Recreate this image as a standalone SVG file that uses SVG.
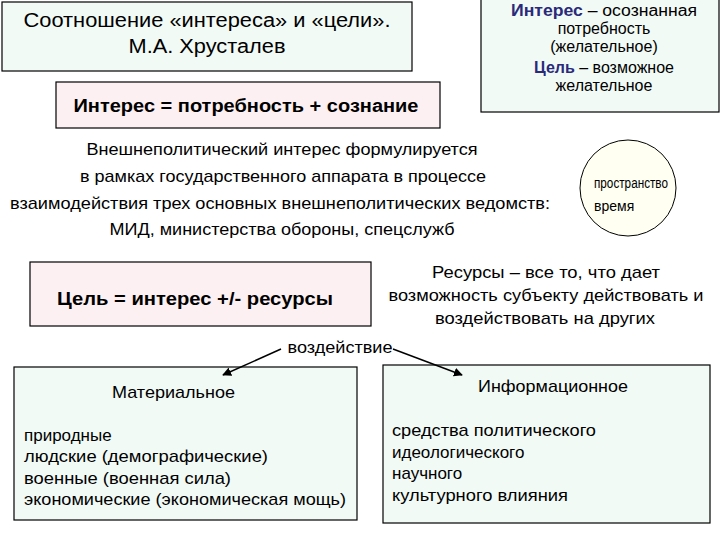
<svg xmlns="http://www.w3.org/2000/svg" width="720" height="540" viewBox="0 0 720 540">
<style>
text{font-family:"Liberation Sans",Arial,sans-serif;fill:#000}
.box{stroke:#000;stroke-width:1.2}
.g{fill:#f2faf6}.p{fill:#fdf0f2}
.b{font-weight:bold}
.n{fill:#2a2a7a;font-weight:bold}
</style>
<defs><marker id="a" viewBox="0 0 10 10" refX="9" refY="5" markerWidth="6" markerHeight="6" orient="auto"><path d="M0,0L10,5L0,10z" fill="#000"/></marker></defs>
<rect width="720" height="540" fill="#fff"/>
<g id="title"><rect class="box g" x="2" y="2" width="410" height="69"/>
<text x="207" y="27" font-size="20" text-anchor="middle" textLength="367" lengthAdjust="spacingAndGlyphs">Соотношение «интереса» и «цели».</text>
<text x="207" y="53" font-size="20" text-anchor="middle" textLength="157" lengthAdjust="spacingAndGlyphs">М.А. Хрусталев</text></g>
<g id="def"><rect class="box g" x="481" y="-1" width="238" height="113"/>
<g font-size="16" text-anchor="middle"><text x="604" y="16" textLength="186" lengthAdjust="spacingAndGlyphs"><tspan class="n">Интерес</tspan> – осознанная</text>
<text x="604" y="34">потребность</text><text x="604" y="52">(желательное)</text>
<text x="604" y="73"><tspan class="n">Цель</tspan> – возможное</text><text x="604" y="91">желательное</text></g></g>
<g id="interest"><rect class="box p" x="56" y="82" width="384" height="46"/>
<text x="246" y="112" font-size="18" class="b" text-anchor="middle" textLength="345" lengthAdjust="spacingAndGlyphs">Интерес = потребность + сознание</text></g>
<g id="foreign" font-size="17" text-anchor="middle"><text x="282" y="155" textLength="391" lengthAdjust="spacingAndGlyphs">Внешнеполитический интерес формулируется</text>
<text x="283" y="182" textLength="406" lengthAdjust="spacingAndGlyphs">в рамках государственного аппарата в процессе</text>
<text x="280" y="209" textLength="540" lengthAdjust="spacingAndGlyphs">взаимодействия трех основных внешнеполитических ведомств:</text>
<text x="282" y="235" textLength="345" lengthAdjust="spacingAndGlyphs">МИД, министерства обороны, спецслужб</text></g>
<g id="circle"><circle cx="628" cy="188" r="48" fill="#fffff2" stroke="#000" stroke-width="1"/>
<text x="594" y="188" font-size="14" textLength="74" lengthAdjust="spacingAndGlyphs">пространство</text><text x="594" y="211" font-size="14">время</text></g>
<g id="goal"><rect class="box p" x="30" y="262" width="341" height="64"/>
<text x="195" y="305" font-size="19" class="b" text-anchor="middle" textLength="276" lengthAdjust="spacingAndGlyphs">Цель = интерес +/- ресурсы</text></g>
<g id="res" font-size="17" text-anchor="middle"><text x="546" y="278" textLength="228" lengthAdjust="spacingAndGlyphs">Ресурсы – все то, что дает</text>
<text x="546" y="301" textLength="315" lengthAdjust="spacingAndGlyphs">возможность субъекту действовать и</text><text x="545" y="324" textLength="220" lengthAdjust="spacingAndGlyphs">воздействовать на других</text></g>
<text x="340" y="353" font-size="16" text-anchor="middle" textLength="105" lengthAdjust="spacingAndGlyphs">воздействие</text>
<g id="mat"><rect class="box g" x="14" y="367" width="343" height="153"/>
<g font-size="17"><text x="112" y="398" textLength="123" lengthAdjust="spacingAndGlyphs">Материальное</text><text x="24" y="441">природные</text><text x="24" y="462" textLength="244" lengthAdjust="spacingAndGlyphs">людские (демографические)</text><text x="24" y="484" textLength="207" lengthAdjust="spacingAndGlyphs">военные (военная сила)</text><text x="24" y="505" textLength="322" lengthAdjust="spacingAndGlyphs">экономические (экономическая мощь)</text></g></g>
<g id="inf"><rect class="box g" x="383" y="365" width="327" height="158"/>
<g font-size="17"><text x="478" y="392" textLength="150" lengthAdjust="spacingAndGlyphs">Информационное</text><text x="392" y="436" textLength="204" lengthAdjust="spacingAndGlyphs">средства политического</text><text x="392" y="458">идеологического</text><text x="392" y="479">научного</text><text x="392" y="501" textLength="176" lengthAdjust="spacingAndGlyphs">культурного влияния</text></g></g>
<g id="connectors" stroke="#000" stroke-width="1.5" fill="none"><line x1="281" y1="349" x2="223" y2="375" marker-end="url(#a)"/><line x1="393" y1="349" x2="462" y2="375" marker-end="url(#a)"/></g>
</svg>
